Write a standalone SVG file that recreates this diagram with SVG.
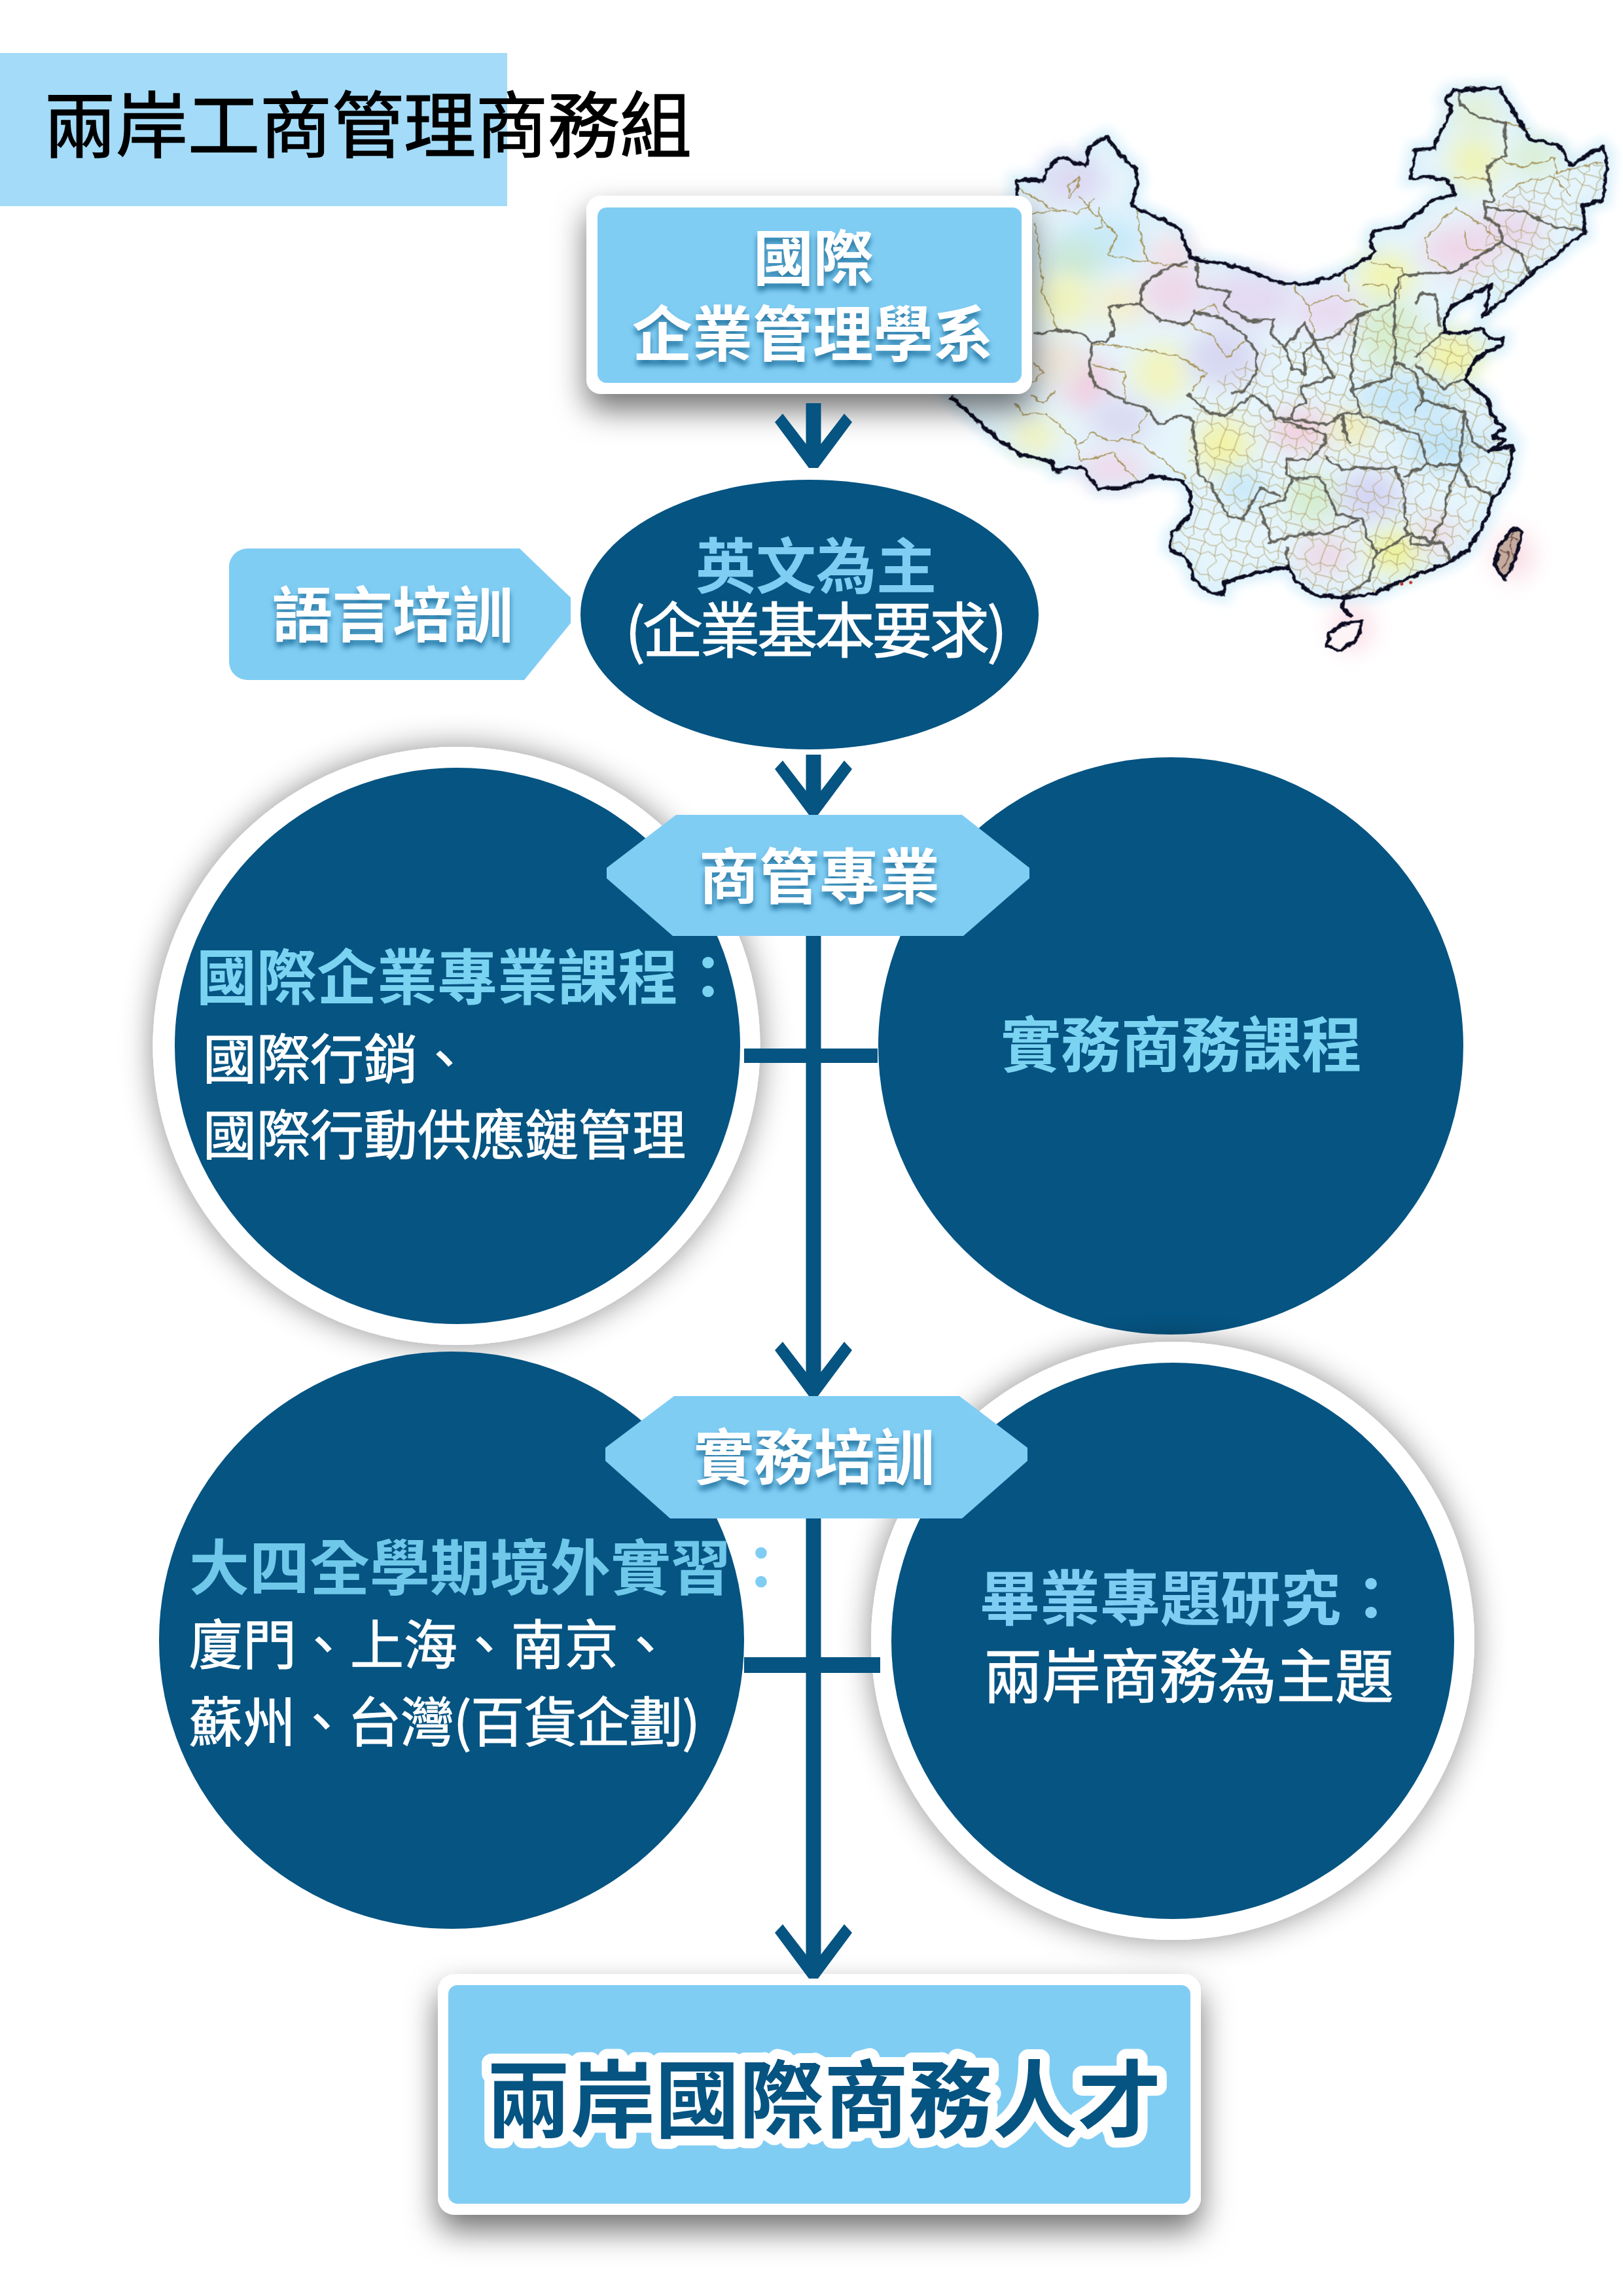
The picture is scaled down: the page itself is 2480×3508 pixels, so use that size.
<svg xmlns="http://www.w3.org/2000/svg" width="2480" height="3508" viewBox="0 0 2480 3508">
<style>
text{font-family:"Noto Sans CJK TC","Noto Sans CJK SC","Liberation Sans",sans-serif}
.dark{fill:#055482}
.light{fill:#80cdf4}
.ring{fill:#fff;filter:url(#softShadow)}
.boxring{fill:#fff;filter:url(#boxShadow)}
.wb{fill:#fff;font-weight:700;font-size:92px;filter:url(#textShadow)}
.cy{fill:#7ad3f1;font-weight:700;font-size:92px}
.sky{fill:#7fcdf3;font-weight:700;font-size:92px}
.wr{fill:#fff;font-size:82px;stroke:#fff;stroke-width:1.2}
.blob{filter:url(#blur)}
.outline{fill:none;stroke:#101024;stroke-width:5.5;stroke-linejoin:round;vector-effect:non-scaling-stroke}
.prov{fill:none;stroke:#55544c;stroke-width:3.8;stroke-linejoin:round;vector-effect:non-scaling-stroke;stroke-opacity:.9}
.county{fill:none;stroke:#a08d4d;stroke-width:1.6;stroke-linejoin:round;vector-effect:non-scaling-stroke}
.conn{stroke:#055482;stroke-width:23;fill:none}
</style>
<defs>
<filter id="softShadow" x="-15%" y="-15%" width="130%" height="130%"><feDropShadow dx="0" dy="0" stdDeviation="24" flood-color="#000" flood-opacity=".45"/></filter>
<filter id="boxShadow" x="-15%" y="-20%" width="130%" height="150%"><feDropShadow dx="0" dy="24" stdDeviation="24" flood-color="#000" flood-opacity=".55"/></filter>
<filter id="textShadow" x="-10%" y="-20%" width="120%" height="150%"><feDropShadow dx="0" dy="8" stdDeviation="4" flood-color="#055482" flood-opacity=".7"/></filter>
<filter id="blur" x="-100%" y="-100%" width="300%" height="300%"><feGaussianBlur stdDeviation="30"/></filter>
<filter id="baseBlur" x="-20%" y="-20%" width="140%" height="140%"><feGaussianBlur stdDeviation="14"/></filter>
<filter id="jag" filterUnits="userSpaceOnUse" x="-200" y="0" width="1800" height="1600"><feTurbulence type="fractalNoise" baseFrequency=".05" numOctaves="2" seed="4" result="n"/><feDisplacementMap in="SourceGraphic" in2="n" scale="16" xChannelSelector="R" yChannelSelector="G"/></filter>
<marker id="vee" markerUnits="userSpaceOnUse" markerWidth="180" markerHeight="180" viewBox="-100 -90 180 180" refX="-12" refY="0" orient="auto" overflow="visible">
<polygon points="0,-7 -70,-59 -83,-47 -22,0 -83,47 -70,59 0,7" fill="#055482"/>
</marker>
<pattern id="mesh" width="120" height="120" patternUnits="userSpaceOnUse" patternTransform="rotate(17) scale(.9)">
<path fill="none" stroke="#a8965a" stroke-width="1.7" d="M0,30L20,22 38,34 60,28 82,40 100,26 120,30M0,90L22,98 40,84 60,92 78,80 102,94 120,90M60,0L52,14 60,28 68,46 56,62 60,92 70,106 60,120M20,22L14,44 24,60 18,78 22,98M100,26L108,48 96,62 104,78 102,94M24,60L40,66 56,62M68,46L84,58 96,62M0,60L24,60M96,62L120,60M20,0L20,22M20,120L22,98M100,0L100,26M100,120L102,94"/>
</pattern>
<clipPath id="chinaClip"><path d="M85,298L150,300 160,268 192,238 255,262 262,210 305,185 340,235 375,265 382,300 365,365 450,405 488,430 510,500 620,522 680,545 740,570 790,570 880,540 940,505 962,485 948,455 960,430 1025,420 1080,375 1100,350 1160,335 1140,300 1090,290 1048,295 1062,218 1105,215 1150,110 1132,92 1150,65 1265,58 1300,120 1340,190 1415,210 1440,260 1515,212 1530,235 1520,350 1468,365 1475,440 1445,455 1400,500 1345,540 1280,605 1225,655 1240,600 1245,570 1210,590 1160,620 1130,655 1130,695 1185,695 1220,685 1240,710 1275,710 1270,730 1235,745 1205,770 1180,815 1200,835 1240,870 1245,910 1280,945 1250,965 1280,975 1240,1005 1300,990 1285,1080 1250,1130 1230,1190 1190,1260 1140,1295 1040,1335 960,1375 885,1385 820,1380 770,1345 750,1305 680,1320 640,1330 595,1345 590,1378 545,1365 520,1340 505,1290 460,1255 465,1220 510,1170 510,1110 490,1080 420,1070 345,1100 285,1100 245,1045 180,1055 170,1030 100,1015 50,980 16,950 -74,862 -100,800 85,340Z"/></clipPath>
</defs>

<rect id="title-band" x="0" y="81" width="775" height="234" fill="#a3dbf8"/>
<text id="title" x="67" y="232" font-size="110" fill="#000" stroke="#000" stroke-width="1.6">兩岸工商管理商務組</text>

<g id="map" transform="translate(1500 100) scale(.625 .5869)">
<path d="M85,298L150,300 160,268 192,238 255,262 262,210 305,185 340,235 375,265 382,300 365,365 450,405 488,430 510,500 620,522 680,545 740,570 790,570 880,540 940,505 962,485 948,455 960,430 1025,420 1080,375 1100,350 1160,335 1140,300 1090,290 1048,295 1062,218 1105,215 1150,110 1132,92 1150,65 1265,58 1300,120 1340,190 1415,210 1440,260 1515,212 1530,235 1520,350 1468,365 1475,440 1445,455 1400,500 1345,540 1280,605 1225,655 1240,600 1245,570 1210,590 1160,620 1130,655 1130,695 1185,695 1220,685 1240,710 1275,710 1270,730 1235,745 1205,770 1180,815 1200,835 1240,870 1245,910 1280,945 1250,965 1280,975 1240,1005 1300,990 1285,1080 1250,1130 1230,1190 1190,1260 1140,1295 1040,1335 960,1375 885,1385 820,1380 770,1345 750,1305 680,1320 640,1330 595,1345 590,1378 545,1365 520,1340 505,1290 460,1255 465,1220 510,1170 510,1110 490,1080 420,1070 345,1100 285,1100 245,1045 180,1055 170,1030 100,1015 50,980 16,950 -74,862 -100,800 85,340Z" fill="#e6f5fc" stroke="#dcf1fb" stroke-width="40" filter="url(#baseBlur)"/>
<g class="blobs" opacity=".75">
<ellipse class="blob" cx="225" cy="300" rx="80" ry="65" fill="#d9d0f0"/>
<ellipse class="blob" cx="300" cy="460" rx="110" ry="70" fill="#bfe6f8"/>
<ellipse class="blob" cx="225" cy="510" rx="70" ry="60" fill="#bfe3cc"/>
<ellipse class="blob" cx="205" cy="610" rx="70" ry="70" fill="#f3f3a8"/>
<ellipse class="blob" cx="340" cy="620" rx="70" ry="55" fill="#f6ecbc"/>
<ellipse class="blob" cx="465" cy="490" rx="55" ry="45" fill="#f9d6de"/>
<ellipse class="blob" cx="470" cy="590" rx="80" ry="70" fill="#f0cee4"/>
<ellipse class="blob" cx="650" cy="610" rx="120" ry="75" fill="#e2d2ee"/>
<ellipse class="blob" cx="850" cy="640" rx="90" ry="65" fill="#e9d3ee"/>
<ellipse class="blob" cx="990" cy="550" rx="70" ry="60" fill="#f5f498"/>
<ellipse class="blob" cx="1170" cy="480" rx="90" ry="65" fill="#f1cde2"/>
<ellipse class="blob" cx="1205" cy="250" rx="60" ry="70" fill="#f2f3a0"/>
<ellipse class="blob" cx="1350" cy="240" rx="55" ry="50" fill="#d5ecc4"/>
<ellipse class="blob" cx="1210" cy="130" rx="55" ry="55" fill="#dfeec6"/>
<ellipse class="blob" cx="1290" cy="430" rx="85" ry="55" fill="#ebcfe6"/>
<ellipse class="blob" cx="1150" cy="760" rx="70" ry="65" fill="#f5f38c"/>
<ellipse class="blob" cx="1000" cy="700" rx="75" ry="95" fill="#d1ebc0"/>
<ellipse class="blob" cx="1040" cy="870" rx="125" ry="65" fill="#bce3f9"/>
<ellipse class="blob" cx="260" cy="830" rx="65" ry="70" fill="#f2c2da"/>
<ellipse class="blob" cx="180" cy="770" rx="75" ry="65" fill="#eee0d0"/>
<ellipse class="blob" cx="440" cy="800" rx="70" ry="75" fill="#f5f4aa"/>
<ellipse class="blob" cx="340" cy="925" rx="75" ry="60" fill="#d5d2ee"/>
<ellipse class="blob" cx="130" cy="965" rx="55" ry="50" fill="#f3f2ac"/>
<ellipse class="blob" cx="320" cy="1050" rx="85" ry="40" fill="#f2cce4"/>
<ellipse class="blob" cx="590" cy="990" rx="65" ry="70" fill="#f7f28a"/>
<ellipse class="blob" cx="590" cy="760" rx="85" ry="75" fill="#d3cdee"/>
<ellipse class="blob" cx="780" cy="950" rx="70" ry="55" fill="#f5c4d6"/>
<ellipse class="blob" cx="905" cy="945" rx="45" ry="40" fill="#f8e68c"/>
<ellipse class="blob" cx="1130" cy="990" rx="90" ry="65" fill="#b4dff8"/>
<ellipse class="blob" cx="810" cy="1130" rx="65" ry="60" fill="#cdeabd"/>
<ellipse class="blob" cx="950" cy="1120" rx="75" ry="65" fill="#cfcbf0"/>
<ellipse class="blob" cx="1010" cy="1265" rx="60" ry="50" fill="#f0f06a"/>
<ellipse class="blob" cx="840" cy="1275" rx="65" ry="50" fill="#efcfde"/>
<ellipse class="blob" cx="640" cy="1100" rx="55" ry="50" fill="#bce4f7"/>
<ellipse class="blob" cx="1110" cy="1220" rx="45" ry="50" fill="#efd4e0"/>
<ellipse class="blob" cx="1300" cy="1275" rx="50" ry="65" fill="#f8d2dd"/>
<ellipse class="blob" cx="905" cy="1465" rx="50" ry="60" fill="#f8d2dd"/>
</g>
<g clip-path="url(#chinaClip)">
<polygon fill="url(#mesh)" points="500,1070 520,860 720,720 820,720 920,650 1010,620 1130,690 1240,710 1180,815 1280,945 1300,990 1250,1130 1140,1295 960,1375 820,1380 750,1305 595,1345 520,1340 460,1255 510,1110"/>
<polygon fill="url(#mesh)" points="1160,560 1230,500 1240,370 1330,300 1520,250 1520,350 1470,440 1345,540 1225,655 1130,660"/>
</g>
<g id="map-lines" filter="url(#jag)">
<g id="map-counties">
<path class="county" d="M90,320L170,370 230,385 280,350M125,385L210,375M235,340L330,440 310,495 400,510 505,525M380,375L385,430 405,510M130,410L145,520 150,590 185,690M210,345L215,310 240,290 235,320 210,345M285,370L295,420 275,425M80,880L100,910 160,905 200,945 235,990 270,955 310,975 370,975 420,1010 500,1075M235,990L240,1030 320,1010 380,1080M405,905L370,970M270,725L400,740 480,755 550,800 510,850M270,780L350,800 350,870M760,575L800,625 810,700M800,625L860,600 945,625M885,540L900,590M930,570L990,570 1000,610M950,510L1030,530 1020,610M1150,290L1240,295M1280,150L1340,165M1250,240L1320,265 1400,240M1400,240L1405,280 1520,250M1270,340L1330,300 1400,290 1440,340M1160,370L1085,450 1090,500 1150,540M1160,370L1230,420 1265,460M1180,430L1190,480 1240,480M500,670L560,700 600,760 650,710M525,640L570,620 580,650M120,860L150,880 180,850M130,775L150,800 120,830"/>
</g>
<g id="map-provinces">
<path class="prov" d="M125,700L185,690 240,695 270,720 262,795 280,835 350,875 410,900 430,935 490,910 515,925 530,1060M505,510L450,530 400,565 385,620 310,630 325,690 305,720 270,720M385,620L440,665 500,675 520,640 590,660 640,700 670,745 670,800 640,850 610,850M525,510L530,575 610,590 590,620 650,665 715,660 710,700 740,735 790,670 810,715 860,710 920,650 1010,615 1020,550 1090,540 1150,540 1240,480 1270,460 1265,420 1235,395 1230,355 1250,350 1240,300 1235,265 1280,235 1280,150 1200,130 1170,95 1165,65M1235,370L1320,380 1400,420 1475,430M1270,460L1320,490 1340,540M740,735L760,790 790,800 790,750 810,715M810,715L850,790 860,810 780,840 790,880 765,890 760,920 840,935 880,910M920,650L905,760 905,840 930,910 1000,935 1070,960 1090,1040M1010,615L1010,770 1000,815 910,845M500,855L560,905 600,910 660,860 700,885 720,920 760,920M530,1060L565,1100 600,1170 640,1180 680,1100 730,1120M720,920L840,960 840,985 800,1030 745,1025 745,1070 760,1075M680,1150L740,1130 760,1075 830,1075 870,1170 930,1180 940,1220 965,1270 945,1340 885,1385M680,1150L710,1240 700,1245 780,1220 840,1220 920,1185M965,1270L1050,1220 1050,1250 1130,1240 1145,1290M840,1020L880,1050 1010,1045 1030,1100 1040,1220M900,985L885,950 880,910 925,905M1030,1070L1090,1040 1170,1040 1190,1090 1250,1120M1040,1220L1100,1240 1130,1170 1140,1110 1170,1040M1060,900L1080,870 1060,800 1010,770M1180,900L1200,980 1240,1005M1060,760L1120,700 1220,690M1060,780L1130,840 1180,815M1060,620L1080,590 1110,600 1120,680M1070,870L1180,900 1170,1040M745,1250L750,1305"/>
</g>
<path class="outline" d="M85,298L150,300 160,268 192,238 255,262 262,210 305,185 340,235 375,265 382,300 365,365 450,405 488,430 510,500 620,522 680,545 740,570 790,570 880,540 940,505 962,485 948,455 960,430 1025,420 1080,375 1100,350 1160,335 1140,300 1090,290 1048,295 1062,218 1105,215 1150,110 1132,92 1150,65 1265,58 1300,120 1340,190 1415,210 1440,260 1515,212 1530,235 1520,350 1468,365 1475,440 1445,455 1400,500 1345,540 1280,605 1225,655 1240,600 1245,570 1210,590 1160,620 1130,655 1130,695 1185,695 1220,685 1240,710 1275,710 1270,730 1235,745 1205,770 1180,815 1200,835 1240,870 1245,910 1280,945 1250,965 1280,975 1240,1005 1300,990 1285,1080 1250,1130 1230,1190 1190,1260 1140,1295 1040,1335 960,1375 885,1385 820,1380 770,1345 750,1305 680,1320 640,1330 595,1345 590,1378 545,1365 520,1340 505,1290 460,1255 465,1220 510,1170 510,1110 490,1080 420,1070 345,1100 285,1100 245,1045 180,1055 170,1030 100,1015 50,980 16,950 -74,862"/>
<path class="outline" d="M85,298L90,340"/>
<path class="outline" d="M885,1385L882,1410 905,1435"/>
<path id="hainan" class="outline" style="fill:#fdf4f6" d="M850,1480L880,1455 928,1448 920,1490 878,1525 845,1510Z"/>
<path id="taiwan" class="outline" style="fill:#c4ab9f" d="M1300,1205L1320,1215 1310,1270 1280,1338 1255,1300 1265,1250Z"/>
<path class="county" style="stroke:#6b4a40" d="M1300,1215L1290,1250 1300,1280M1270,1260L1290,1275 1275,1310M1310,1235L1285,1230"/>
</g>
<circle cx="1027" cy="1350" r="4" fill="#c0281e"/><circle cx="1049" cy="1346" r="4" fill="#c0281e"/>
</g>

<g id="node-department">
<rect class="boxring" x="896" y="299" width="681" height="303" rx="22"/>
<rect class="light" x="913" y="317" width="648" height="268" rx="14"/>
<text class="wb" x="1243" y="428" text-anchor="middle">國際</text>
<text class="wb" x="1242" y="544" text-anchor="middle">企業管理學系</text>
</g>
<g id="node-english">
<ellipse class="dark" cx="1237" cy="939" rx="350" ry="206"/>
<text class="sky" x="1247" y="899" text-anchor="middle">英文為主</text>
<text x="955" y="997" fill="#fff" stroke="#fff" stroke-width="1.2" font-size="92" textLength="584" lengthAdjust="spacing">(企業基本要求)</text>
</g>
<g id="node-language">
<path class="light" d="M378,838H794L872,913V952L801,1039H378A28,28 0 0 1 350,1011V866A28,28 0 0 1 378,838Z"/>
<text class="wb" x="600" y="973" text-anchor="middle">語言培訓</text>
</g>
<g id="node-intl-courses">
<ellipse class="ring" cx="697.5" cy="1598" rx="464" ry="457"/>
<ellipse class="dark" cx="699" cy="1598" rx="432" ry="425"/>
<text class="cy" x="300" y="1527">國際企業專業課程：</text>
<text class="wr" x="310" y="1648">國際行銷、</text>
<text class="wr" x="310" y="1764">國際行動供應鏈管理</text>
</g>
<g id="node-practice-courses">
<ellipse class="dark" cx="1789" cy="1598" rx="447" ry="441"/>
<text class="cy" x="1805" y="1630" text-anchor="middle">實務商務課程</text>
</g>
<g id="node-internship">
<ellipse class="dark" cx="690" cy="2506" rx="447" ry="441"/>
<text class="cy" x="289" y="2429" style="fill:#6fc8ea">大四全學期境外實習<tspan style="fill:#7fcdf3">：</tspan></text>
<text class="wr" x="289" y="2543">廈門、上海、南京、</text>
<text class="wr" x="289" y="2661" textLength="781" lengthAdjust="spacing">蘇州、台灣(百貨企劃)</text>
</g>
<g id="node-thesis">
<ellipse class="ring" cx="1792" cy="2507" rx="461" ry="457"/>
<ellipse class="dark" cx="1792" cy="2507" rx="430" ry="425"/>
<text class="sky" x="1497" y="2476">畢業專題研究：</text>
<text class="wr" x="1503" y="2594" style="font-size:89.5px">兩岸商務為主題</text>
</g>
<g id="node-major">
<polygon class="light" points="1033,1245 1470,1245 1573,1326 1573,1342 1472,1430 1028,1430 927,1342 927,1326"/>
<text class="wb" x="1252" y="1373" text-anchor="middle">商管專業</text>
</g>
<g id="node-training">
<polygon class="light" points="1030,2133 1466,2133 1570,2212 1570,2232 1470,2320 1024,2320 925,2232 925,2212"/>
<text class="wb" x="1244" y="2260" text-anchor="middle">實務培訓</text>
</g>
<g id="node-talent">
<rect class="boxring" x="669" y="3016" width="1166" height="368" rx="26"/>
<rect class="light" x="685" y="3033" width="1134" height="334" rx="14"/>
<text x="1259" y="3256" text-anchor="middle" font-size="129" font-weight="700" fill="#055482" stroke="#fff" stroke-width="30" stroke-linejoin="round" paint-order="stroke">兩岸國際商務人才</text>
</g>

<g id="connectors">
<line class="conn" x1="1243" y1="616" x2="1243" y2="703" marker-end="url(#vee)"/>
<line class="conn" x1="1243" y1="1153" x2="1243" y2="1233" marker-end="url(#vee)"/>
<line class="conn" x1="1243" y1="1430" x2="1243" y2="2121" marker-end="url(#vee)"/>
<line class="conn" x1="1243" y1="2320" x2="1243" y2="3011" marker-end="url(#vee)"/>
<rect x="1137" y="1602" width="204" height="22" class="dark"/>
<rect x="1137" y="2532" width="208" height="24" class="dark"/>
</g>
</svg>
